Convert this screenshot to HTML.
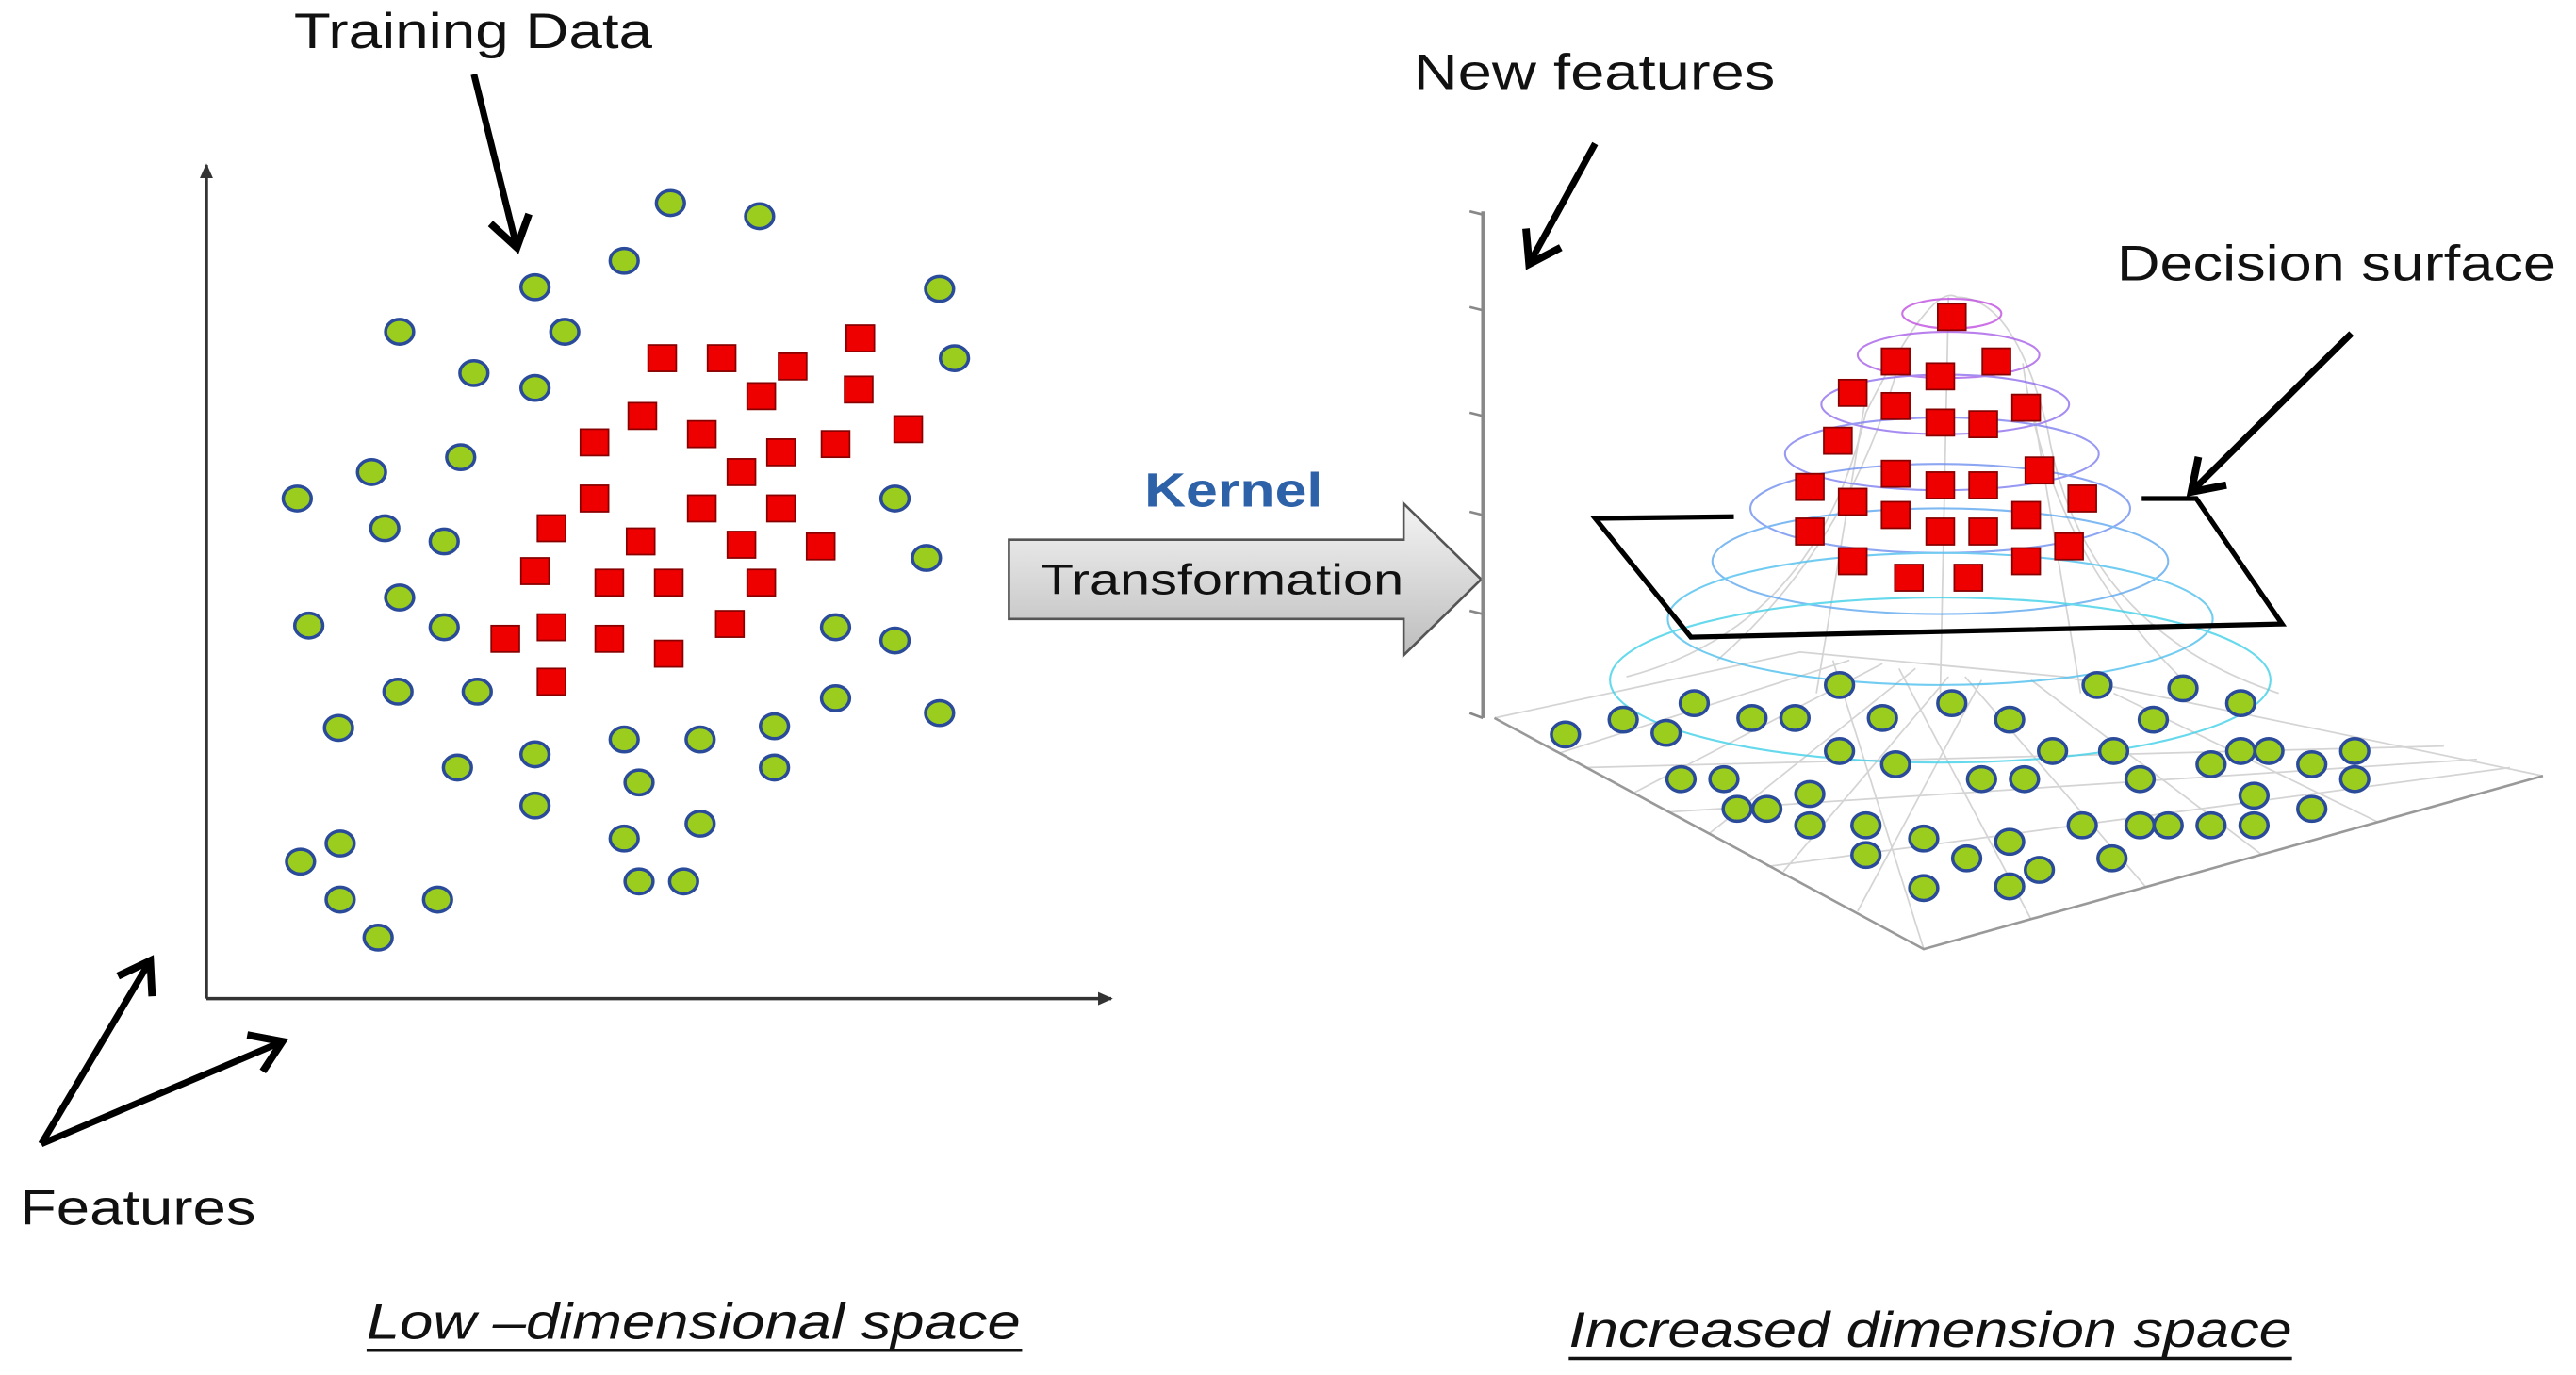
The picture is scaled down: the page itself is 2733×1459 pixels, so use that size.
<!DOCTYPE html>
<html><head><meta charset="utf-8"><style>
html,body{margin:0;padding:0;background:#fff;}
svg{display:block;}
text{font-family:"Liberation Sans",sans-serif;}
</style></head><body>
<svg width="2733" height="1459" viewBox="0 0 1560 833" preserveAspectRatio="none" xmlns="http://www.w3.org/2000/svg">
<defs>
<marker id="ah" markerWidth="10" markerHeight="10" refX="8" refY="5" orient="auto" markerUnits="userSpaceOnUse"><path d="M0,1 L9,5 L0,9 z" fill="#333"/></marker>
<marker id="bh" markerWidth="30" markerHeight="30" refX="22" refY="15" orient="auto" markerUnits="userSpaceOnUse"><path d="M4,3 L22,15 L4,27" fill="none" stroke="#000" stroke-width="4.5"/></marker>
<linearGradient id="ga" x1="0" y1="0" x2="0" y2="1"><stop offset="0" stop-color="#f4f4f4"/><stop offset="1" stop-color="#bdbdbd"/></linearGradient>
<g id="c"><ellipse rx="8.5" ry="7.5" fill="#9acd1e" stroke="#2a4a9a" stroke-width="2"/></g>
<g id="s"><rect x="-8.5" y="-8" width="17" height="16" fill="#ee0000" stroke="#800" stroke-width="1"/></g>
</defs>

<line x1="125" y1="605" x2="125" y2="100" stroke="#333" stroke-width="2" marker-end="url(#ah)"/>
<line x1="125" y1="605" x2="673" y2="605" stroke="#333" stroke-width="2" marker-end="url(#ah)"/>
<line x1="287" y1="45" x2="313" y2="150" stroke="#000" stroke-width="4" marker-end="url(#bh)"/>
<line x1="25" y1="693" x2="91" y2="582" stroke="#000" stroke-width="4" marker-end="url(#bh)"/>
<line x1="25" y1="693" x2="171" y2="631" stroke="#000" stroke-width="4" marker-end="url(#bh)"/>

<g>
<use href="#c" x="406" y="123"/><use href="#c" x="460" y="131"/><use href="#c" x="378" y="158"/><use href="#c" x="324" y="174"/><use href="#c" x="569" y="175"/><use href="#c" x="242" y="201"/><use href="#c" x="342" y="201"/><use href="#c" x="287" y="226"/><use href="#c" x="324" y="235"/><use href="#c" x="578" y="217"/><use href="#c" x="279" y="277"/><use href="#c" x="225" y="286"/><use href="#c" x="180" y="302"/><use href="#c" x="542" y="302"/><use href="#c" x="233" y="320"/><use href="#c" x="269" y="328"/><use href="#c" x="561" y="338"/><use href="#c" x="242" y="362"/><use href="#c" x="187" y="379"/><use href="#c" x="269" y="380"/><use href="#c" x="506" y="380"/><use href="#c" x="542" y="388"/><use href="#c" x="241" y="419"/><use href="#c" x="289" y="419"/><use href="#c" x="506" y="423"/><use href="#c" x="569" y="432"/><use href="#c" x="205" y="441"/><use href="#c" x="378" y="448"/><use href="#c" x="424" y="448"/><use href="#c" x="469" y="440"/><use href="#c" x="277" y="465"/><use href="#c" x="324" y="457"/><use href="#c" x="469" y="465"/><use href="#c" x="387" y="474"/><use href="#c" x="324" y="488"/><use href="#c" x="424" y="499"/><use href="#c" x="378" y="508"/><use href="#c" x="206" y="511"/><use href="#c" x="182" y="522"/><use href="#c" x="206" y="545"/><use href="#c" x="265" y="545"/><use href="#c" x="229" y="568"/><use href="#c" x="387" y="534"/><use href="#c" x="414" y="534"/>
</g>
<g>
<use href="#s" x="401" y="217"/><use href="#s" x="437" y="217"/><use href="#s" x="480" y="222"/><use href="#s" x="461" y="240"/><use href="#s" x="521" y="205"/><use href="#s" x="520" y="236"/><use href="#s" x="389" y="252"/><use href="#s" x="360" y="268"/><use href="#s" x="425" y="263"/><use href="#s" x="473" y="274"/><use href="#s" x="506" y="269"/><use href="#s" x="550" y="260"/><use href="#s" x="449" y="286"/><use href="#s" x="360" y="302"/><use href="#s" x="425" y="308"/><use href="#s" x="473" y="308"/><use href="#s" x="334" y="320"/><use href="#s" x="388" y="328"/><use href="#s" x="449" y="330"/><use href="#s" x="497" y="331"/><use href="#s" x="324" y="346"/><use href="#s" x="369" y="353"/><use href="#s" x="405" y="353"/><use href="#s" x="461" y="353"/><use href="#s" x="306" y="387"/><use href="#s" x="334" y="380"/><use href="#s" x="369" y="387"/><use href="#s" x="405" y="396"/><use href="#s" x="442" y="378"/><use href="#s" x="334" y="413"/>
</g>

<text x="178" y="29" font-size="30" fill="#111" textLength="217" lengthAdjust="spacingAndGlyphs">Training Data</text>
<text x="12" y="742" font-size="30" fill="#111" textLength="143" lengthAdjust="spacingAndGlyphs">Features</text>
<text x="222" y="811" font-size="30" font-style="italic" fill="#111" textLength="396" lengthAdjust="spacingAndGlyphs">Low –dimensional space</text>
<line x1="222" y1="818" x2="619" y2="818" stroke="#111" stroke-width="2"/>

<path d="M611,327 L850,327 L850,305 L897,351 L850,397 L850,375 L611,375 Z" fill="url(#ga)" stroke="#555" stroke-width="1.5"/>
<text x="693" y="307" font-size="29" font-weight="bold" fill="#2e62a8" textLength="108" lengthAdjust="spacingAndGlyphs">Kernel</text>
<text x="630" y="360" font-size="26" fill="#111" textLength="220" lengthAdjust="spacingAndGlyphs">Transformation</text>

<text x="856" y="54" font-size="30" fill="#111" textLength="219" lengthAdjust="spacingAndGlyphs">New features</text>
<line x1="966" y1="87" x2="926" y2="160" stroke="#000" stroke-width="4" marker-end="url(#bh)"/>
<text x="1282" y="170" font-size="30" fill="#111" textLength="266" lengthAdjust="spacingAndGlyphs">Decision surface</text>

<line x1="898" y1="128" x2="898" y2="435" stroke="#888" stroke-width="2"/>
<g stroke="#888" stroke-width="1.5">
<line x1="890" y1="128" x2="898" y2="130"/><line x1="890" y1="186" x2="898" y2="188"/><line x1="890" y1="250" x2="898" y2="252"/><line x1="890" y1="310" x2="898" y2="312"/><line x1="890" y1="370" x2="898" y2="372"/><line x1="890" y1="432" x2="898" y2="435"/>
</g>
<g stroke="#d4d4d4" stroke-width="1" fill="none">
<path d="M905,435 L1090,395 L1250,410 L1540,470"/>
<path d="M945,456 L1120,400"/><path d="M990,480 L1140,402"/><path d="M1035,505 L1160,405"/><path d="M1080,528 L1180,410"/><path d="M1125,552 L1200,412"/>
<path d="M1165,575 L1110,400"/><path d="M1230,557 L1150,405"/><path d="M1300,538 L1190,410"/><path d="M1370,518 L1230,412"/><path d="M1440,498 L1280,420"/>
<path d="M960,465 L1480,452"/><path d="M1010,492 L1500,460"/><path d="M1070,525 L1520,465"/>
<path d="M985,410 Q1100,380 1130,250 Q1170,170 1185,180 Q1220,180 1240,260 Q1260,380 1380,420"/>
<path d="M1040,400 Q1120,330 1150,220"/><path d="M1320,410 Q1240,330 1225,220"/>
<path d="M1180,180 L1175,420"/><path d="M1130,240 L1100,420"/><path d="M1230,240 L1260,420"/>
</g>
<g stroke="#999" stroke-width="1.5" fill="none"><path d="M905,435 L1165,575 L1540,470"/></g>
<g fill="none" stroke-width="1.2" opacity="0.8">
<ellipse cx="1182" cy="190" rx="30" ry="9" stroke="#c050e0"/>
<ellipse cx="1180" cy="215" rx="55" ry="14" stroke="#a860e8"/>
<ellipse cx="1178" cy="245" rx="75" ry="18" stroke="#9070ee"/>
<ellipse cx="1176" cy="275" rx="95" ry="22" stroke="#7f80f0"/>
<ellipse cx="1175" cy="308" rx="115" ry="27" stroke="#7090f0"/>
<ellipse cx="1175" cy="340" rx="138" ry="32" stroke="#60a8f0"/>
<ellipse cx="1175" cy="375" rx="165" ry="40" stroke="#50c0ee"/>
<ellipse cx="1175" cy="412" rx="200" ry="50" stroke="#40d0e8"/>
</g>
<path d="M1050,313 L966,314 L1024,386 L1382,378 L1330,302 L1297,302" fill="none" stroke="#000" stroke-width="3"/>
<line x1="1424" y1="202" x2="1327" y2="298" stroke="#000" stroke-width="4" marker-end="url(#bh)"/>

<g>
<use href="#s" x="1182" y="192"/><use href="#s" x="1148" y="219"/><use href="#s" x="1175" y="228"/><use href="#s" x="1209" y="219"/><use href="#s" x="1122" y="238"/><use href="#s" x="1148" y="246"/><use href="#s" x="1175" y="256"/><use href="#s" x="1201" y="257"/><use href="#s" x="1227" y="247"/><use href="#s" x="1113" y="267"/><use href="#s" x="1096" y="295"/><use href="#s" x="1122" y="304"/><use href="#s" x="1148" y="287"/><use href="#s" x="1175" y="294"/><use href="#s" x="1201" y="294"/><use href="#s" x="1235" y="285"/><use href="#s" x="1261" y="302"/><use href="#s" x="1096" y="322"/><use href="#s" x="1148" y="312"/><use href="#s" x="1175" y="322"/><use href="#s" x="1201" y="322"/><use href="#s" x="1227" y="312"/><use href="#s" x="1122" y="340"/><use href="#s" x="1156" y="350"/><use href="#s" x="1192" y="350"/><use href="#s" x="1227" y="340"/><use href="#s" x="1253" y="331"/>
</g>
<g>
<use href="#c" x="948" y="445"/><use href="#c" x="983" y="436"/><use href="#c" x="1009" y="444"/><use href="#c" x="1026" y="426"/><use href="#c" x="1061" y="435"/><use href="#c" x="1087" y="435"/><use href="#c" x="1114" y="415"/><use href="#c" x="1140" y="435"/><use href="#c" x="1182" y="426"/><use href="#c" x="1217" y="436"/><use href="#c" x="1270" y="415"/><use href="#c" x="1304" y="436"/><use href="#c" x="1322" y="417"/><use href="#c" x="1357" y="426"/><use href="#c" x="1018" y="472"/><use href="#c" x="1044" y="472"/><use href="#c" x="1052" y="490"/><use href="#c" x="1070" y="490"/><use href="#c" x="1096" y="481"/><use href="#c" x="1096" y="500"/><use href="#c" x="1114" y="455"/><use href="#c" x="1148" y="463"/><use href="#c" x="1200" y="472"/><use href="#c" x="1226" y="472"/><use href="#c" x="1243" y="455"/><use href="#c" x="1280" y="455"/><use href="#c" x="1296" y="472"/><use href="#c" x="1339" y="463"/><use href="#c" x="1357" y="455"/><use href="#c" x="1374" y="455"/><use href="#c" x="1400" y="463"/><use href="#c" x="1426" y="455"/><use href="#c" x="1426" y="472"/><use href="#c" x="1130" y="500"/><use href="#c" x="1130" y="518"/><use href="#c" x="1165" y="508"/><use href="#c" x="1165" y="538"/><use href="#c" x="1191" y="520"/><use href="#c" x="1217" y="510"/><use href="#c" x="1217" y="537"/><use href="#c" x="1235" y="527"/><use href="#c" x="1261" y="500"/><use href="#c" x="1279" y="520"/><use href="#c" x="1296" y="500"/><use href="#c" x="1313" y="500"/><use href="#c" x="1339" y="500"/><use href="#c" x="1365" y="482"/><use href="#c" x="1365" y="500"/><use href="#c" x="1400" y="490"/>
</g>

<text x="950" y="816" font-size="30" font-style="italic" fill="#111" textLength="438" lengthAdjust="spacingAndGlyphs">Increased dimension space</text>
<line x1="950" y1="823" x2="1388" y2="823" stroke="#111" stroke-width="2"/>
</svg>
</body></html>
